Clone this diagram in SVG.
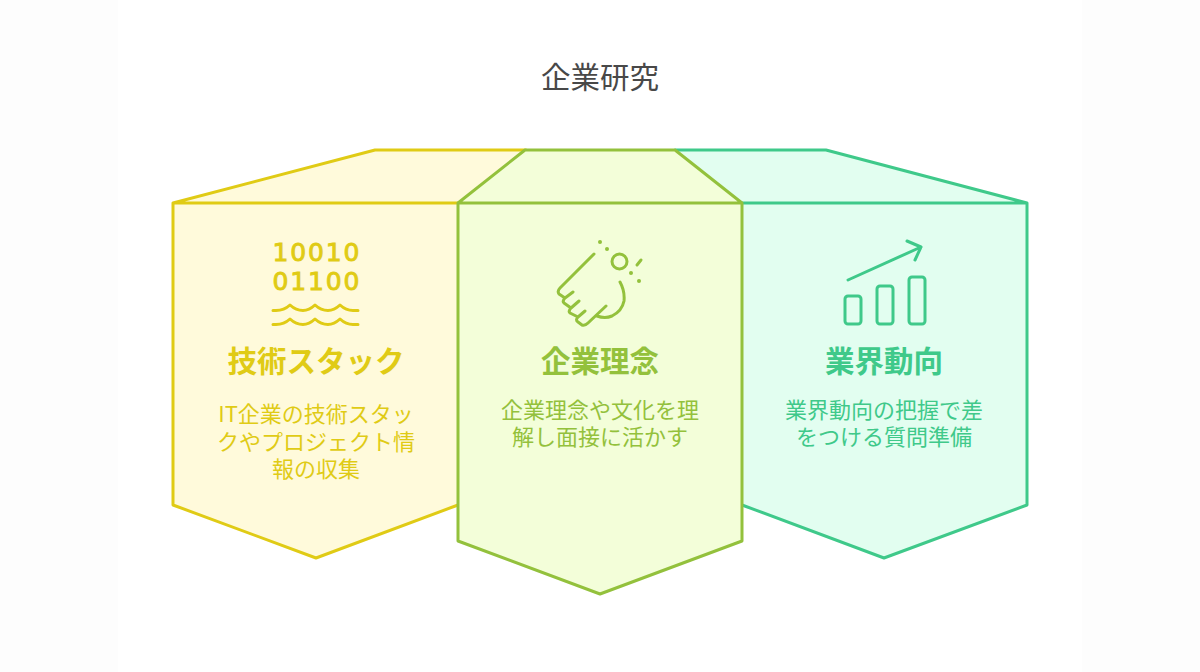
<svg xmlns="http://www.w3.org/2000/svg" width="1200" height="672" viewBox="0 0 1200 672">
<style>
text{text-anchor:middle;font-family:"Noto Sans CJK JP","Noto Sans",sans-serif}
.s{fill:none;stroke-width:3;stroke-linecap:round;stroke-linejoin:round}
.h{font-size:29.500px;font-weight:700}
.b{font-size:22px}
.d{font-size:25px;font-weight:400;font-family:"DejaVu Sans",sans-serif;stroke-width:.9px}
.y{stroke:#e0cb15}.yt{fill:#e0cb15}
.g{stroke:#93c13c}.gt{fill:#93c13c}
.t{stroke:#3fc98a}.tt{fill:#3fc98a}
</style>
<rect width="1200" height="672" fill="#fdfdfd"/>
<rect x="118" width="964" height="672" fill="#ffffff"/>
<text id="title" x="600" y="88" font-size="29.500" fill="#484848">企業研究</text>
<g id="node-tech">
<path d="M173 203L375 150H526L458 203V505L316 558L173 505Z" fill="#fffadb"/>
<path class="s y" d="M458 505L316 558L173 505V203L375 150H526M173 203H458"/>
<path class="s y" d="M273 310.500H276Q284 310.500 290 305Q296 310.500 303 310.500Q309 310.500 315 305Q321 310.500 328 310.500Q334 310.500 340 305Q346 310.500 353 310.500H358M273 324.500H276Q284 324.500 290 319Q296 324.500 303 324.500Q309 324.500 315 319Q321 324.500 328 324.500Q334 324.500 340 319Q346 324.500 353 324.500H358"/>
<text x="316" y="261" class="d yt y" textLength="87" lengthAdjust="spacing">10010</text>
<text x="316" y="290" class="d yt y" textLength="87" lengthAdjust="spacing">01100</text>
<text class="h yt" x="316" y="372">技術スタック</text>
<text class="b yt"><tspan x="316" y="422">IT企業の技術スタッ</tspan><tspan x="316" y="450">クやプロジェクト情</tspan><tspan x="316" y="477">報の収集</tspan></text>
</g>
<g id="node-teal">
<path d="M675 150H826L1027 203V505L884 558L742 505V203Z" fill="#e2fef0"/>
<path class="s t" d="M675 150H826L1027 203V505L884 558L742 505M742 203H1027"/>
<g class="s t">
<path d="M848 280L921 247M907 241L921 247L915 260"/>
<rect x="845" y="296" width="16" height="28" rx="3"/>
<rect x="877" y="286" width="16" height="38" rx="3"/>
<rect x="909" y="277" width="16" height="47" rx="3"/>
</g>
<text class="h tt" x="884" y="372">業界動向</text>
<text class="b tt"><tspan x="884" y="418">業界動向の把握で差</tspan><tspan x="884" y="445">をつける質問準備</tspan></text>
</g>
<g id="node-green">
<path d="M458 203L525 150H675L742 203V541L600 594L458 541Z" fill="#f3fed9"/>
<path class="s g" d="M458 203L525 150H675L742 203V541L600 594L458 541ZM458 203H742"/>
<g class="s g">
<path d="M594 254L560 288Q557 291 559 294L565 298M573 292L565 298Q562 301 564 303L571 308M579 301L571 308Q568 311 570 313L578 317M585 311L578 317Q575 320 578 322L582 325Q585 326 588 323L606 306M597 316Q605 319 612 316Q622 311 624 301Q625 291 620 282"/>
<circle cx="619.500" cy="261.500" r="7.500"/>
<path d="M637 265L641 260"/>
</g>
<g class="gt">
<circle cx="600" cy="242" r="2"/><circle cx="607" cy="249" r="2"/><circle cx="631" cy="273" r="2"/><circle cx="639" cy="281" r="2"/>
</g>
<text class="h gt" x="600" y="372">企業理念</text>
<text class="b gt"><tspan x="600" y="418">企業理念や文化を理</tspan><tspan x="600" y="445">解し面接に活かす</tspan></text>
</g>
<g id="connectors"></g>
</svg>
